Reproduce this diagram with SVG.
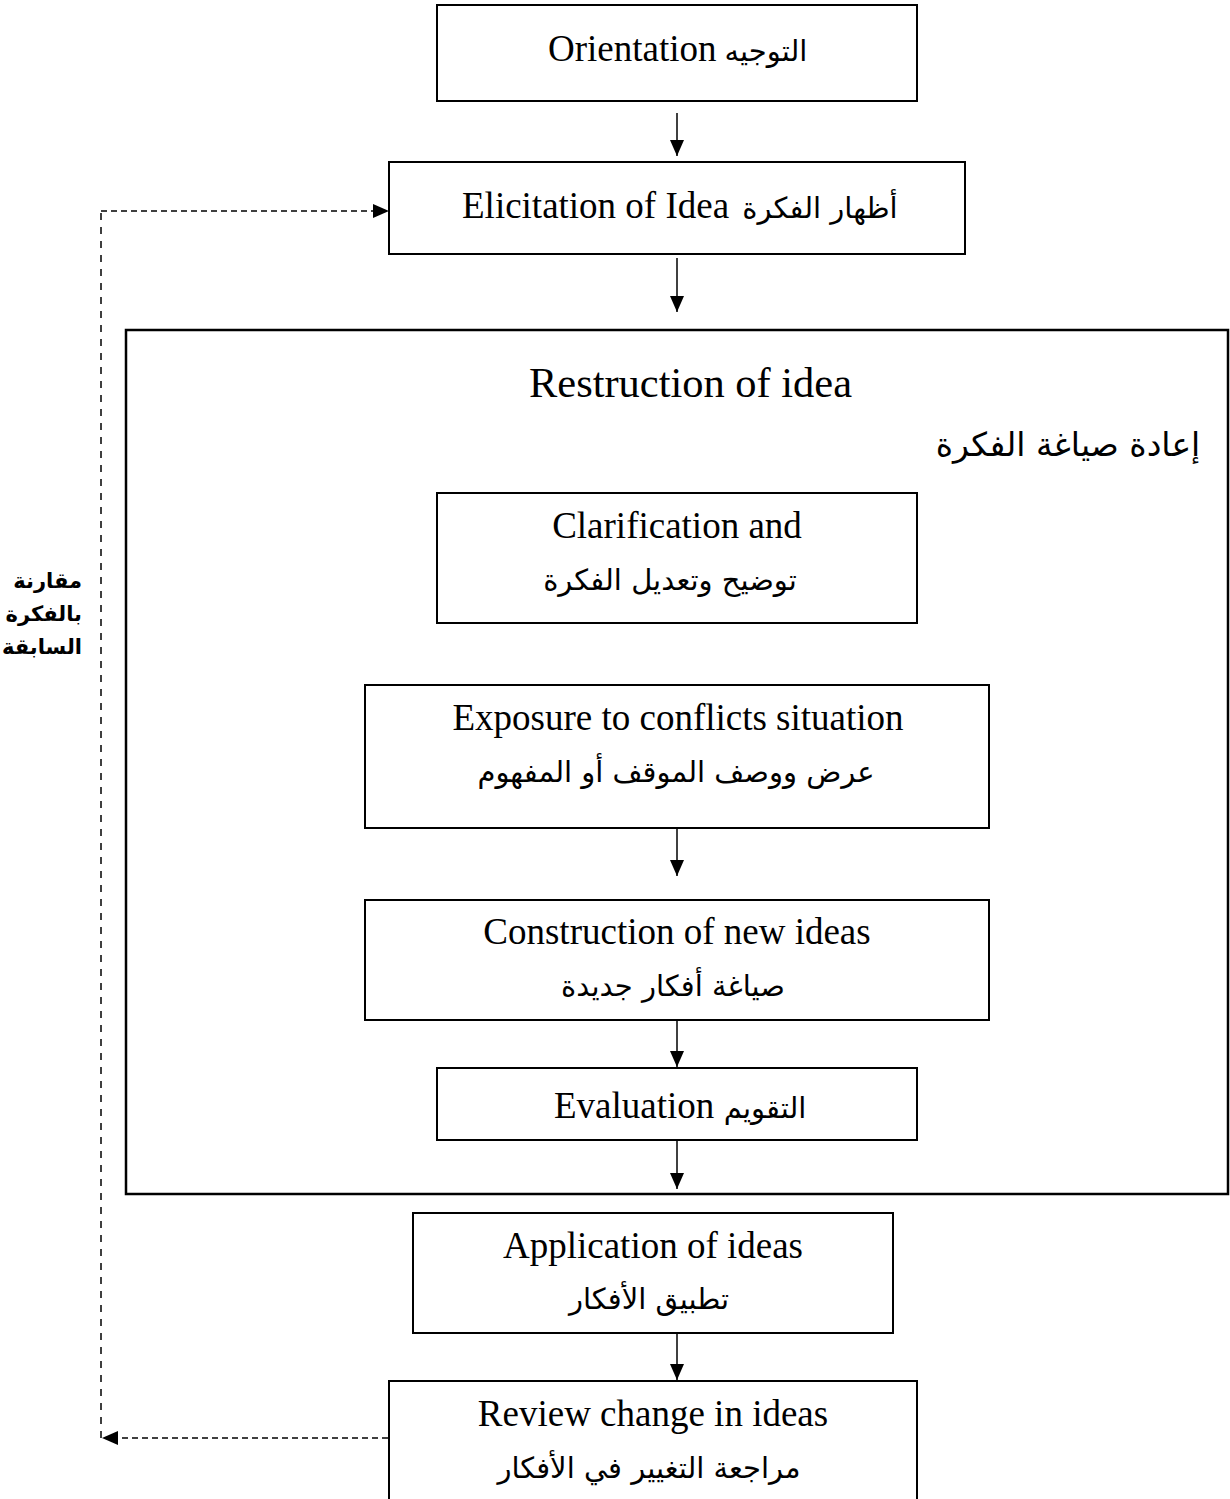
<svg xmlns="http://www.w3.org/2000/svg" width="1230" height="1499" viewBox="0 0 1230 1499">
<style>
  .box { fill: #ffffff; stroke: #000000; stroke-width: 2; }
  .big { fill: none; stroke: #000000; stroke-width: 2.5; }
  .en { font-family: "Liberation Serif", "Times New Roman", serif; font-size: 37px; fill: #000; }
  .ar { font-family: "DejaVu Sans", "Liberation Serif", sans-serif; font-size: 29px; fill: #000; }
  .title { font-size: 42px; }
  .subtitle { font-size: 33px; }
  .lbl { font-family: "DejaVu Sans", sans-serif; font-size: 21px; font-weight: bold; fill: #000; }
  .arrow { stroke: #000; stroke-width: 1.5; fill: none; marker-end: url(#ah); }
  .dash { stroke: #000; stroke-width: 1.5; fill: none; }
</style>
<defs>
  <marker id="ah" viewBox="0 0 16 14" refX="16" refY="7" markerWidth="16" markerHeight="14" markerUnits="userSpaceOnUse" orient="auto">
    <path d="M0,0 L16,7 L0,14 Z" fill="#000"/>
  </marker>
</defs>
<rect width="1230" height="1499" fill="#ffffff"/>

<g id="restruction">
  <rect class="big" x="126" y="330" width="1102" height="864"/>
  <text class="en title" x="529" y="397" textLength="323" lengthAdjust="spacingAndGlyphs">Restruction of idea</text>
  <text class="ar subtitle" x="1068" y="456" text-anchor="middle">إعادة صياغة الفكرة</text>
</g>

<g id="orientation">
  <rect class="box" x="437" y="5" width="480" height="96"/>
  <text class="en" x="548" y="61">Orientation</text>
  <text class="ar" x="766" y="61" text-anchor="middle">التوجيه</text>
</g>

<g id="elicitation">
  <rect class="box" x="389" y="162" width="576" height="92"/>
  <text class="en" x="462" y="218">Elicitation of Idea</text>
  <text class="ar" x="820" y="218" text-anchor="middle">أظهار الفكرة</text>
</g>

<g id="clarification">
  <rect class="box" x="437" y="493" width="480" height="130"/>
  <text class="en" x="677" y="538" text-anchor="middle">Clarification and</text>
  <text class="ar" x="670" y="590" text-anchor="middle">توضيح وتعديل الفكرة</text>
</g>

<g id="exposure">
  <rect class="box" x="365" y="685" width="624" height="143"/>
  <text class="en" x="678" y="730" text-anchor="middle">Exposure to conflicts situation</text>
  <text class="ar" x="676" y="782" text-anchor="middle">عرض ووصف الموقف أو المفهوم</text>
</g>

<g id="construction">
  <rect class="box" x="365" y="900" width="624" height="120"/>
  <text class="en" x="677" y="944" text-anchor="middle">Construction of new ideas</text>
  <text class="ar" x="673" y="996" text-anchor="middle">صياغة أفكار جديدة</text>
</g>

<g id="evaluation">
  <rect class="box" x="437" y="1068" width="480" height="72"/>
  <text class="en" x="554" y="1118">Evaluation</text>
  <text class="ar" x="765" y="1118" text-anchor="middle">التقويم</text>
</g>

<g id="application">
  <rect class="box" x="413" y="1213" width="480" height="120"/>
  <text class="en" x="653" y="1258" text-anchor="middle">Application of ideas</text>
  <text class="ar" x="649" y="1309" text-anchor="middle">تطبيق الأفكار</text>
</g>

<g id="review">
  <rect class="box" x="389" y="1381" width="528" height="130"/>
  <text class="en" x="653" y="1426" text-anchor="middle">Review change in ideas</text>
  <text class="ar" x="649" y="1478" text-anchor="middle">مراجعة التغيير في الأفكار</text>
</g>

<g id="compare-label">
  <text class="lbl" x="82" y="588" text-anchor="end">مقارنة</text>
  <text class="lbl" x="82" y="621" text-anchor="end">بالفكرة</text>
  <text class="lbl" x="82" y="654" text-anchor="end">السابقة</text>
</g>

<g id="connectors">
  <line class="arrow" x1="677" y1="113" x2="677" y2="156"/>
  <line class="arrow" x1="677" y1="258" x2="677" y2="312"/>
  <line class="arrow" x1="677" y1="828" x2="677" y2="876"/>
  <line class="arrow" x1="677" y1="1020" x2="677" y2="1067"/>
  <line class="arrow" x1="677" y1="1140" x2="677" y2="1189"/>
  <line class="arrow" x1="677" y1="1333" x2="677" y2="1380"/>
  <path class="dash" d="M388,1438 L118,1438" stroke-dasharray="6 4"/>
  <path d="M102,1438 L118,1431 L118,1445 Z" fill="#000"/>
  <path class="dash" d="M101,1438 L101,211" stroke-dasharray="7 7"/>
  <path class="dash" d="M101,211 L373,211" stroke-dasharray="6 4"/>
  <path d="M389,211 L373,204 L373,218 Z" fill="#000"/>
</g>
</svg>
